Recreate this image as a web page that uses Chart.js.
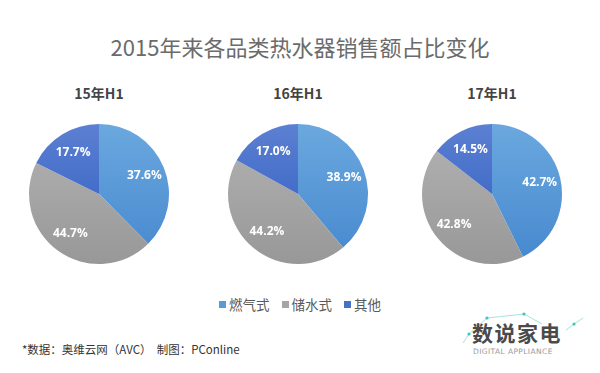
<!DOCTYPE html>
<html>
<head>
<meta charset="utf-8">
<script src="https://cdn.jsdelivr.net/npm/chart.js@4/dist/chart.umd.min.js"></script>
<style>
  body { margin: 0; background: #fff; font-family: "Noto Sans CJK SC", "Noto Sans", sans-serif; }
  #page { position: relative; width: 600px; height: 373px; overflow: hidden; }
  .title { position: absolute; left: 0; width: 600px; top: 30px; text-align: center; font-size: 22px; color: #6b6b6b; }
  .sub { position: absolute; top: 83px; width: 120px; text-align: center; font-size: 14px; font-weight: bold; color: #444; }
  .pie { position: absolute; width: 150px; height: 150px; }
  #legend { position: absolute; top: 294px; left: 0; width: 600px; text-align: center; font-size: 13.5px; color: #595959; }
  #legend span.item { margin: 0 6px; }
  #legend i { display: inline-block; width: 7px; height: 7px; margin-right: 3px; vertical-align: 2px; }
  .foot { position: absolute; left: 22px; top: 341px; font-size: 11.5px; color: #333; }
  .logo { position: absolute; left: 472px; top: 322px; font-size: 21px; line-height: 1; font-weight: bold; color: #4a4a4a; letter-spacing: 1.5px; }
  .logo2 { position: absolute; left: 473px; top: 348px; font-size: 7.5px; line-height: 1; color: #999; letter-spacing: 0.4px; font-family: "DejaVu Sans", sans-serif; }
  #deco { position: absolute; left: 420px; top: 300px; }
</style>
</head>
<body>
<div id="page">
  <div class="title">2015年来各品类热水器销售额占比变化</div>
  <div id="subs"></div>
  <canvas id="pie0" class="pie"></canvas>
  <canvas id="pie1" class="pie"></canvas>
  <canvas id="pie2" class="pie"></canvas>
  <div id="legend"></div>
  <div class="foot">*数据：奥维云网（AVC）&nbsp;&nbsp;制图：PConline</div>
  <svg id="deco" width="180" height="70">
    <polyline points="43,43 49,34 67,18 104,14 122,24" fill="none" stroke="#8fdcd3" stroke-width="0.8"/>
    <polyline points="146,30 154,24 163,18" fill="none" stroke="#8fdcd3" stroke-width="0.8"/>
    <circle cx="49" cy="34" r="1.6" fill="#3cc7b8"/>
    <circle cx="67" cy="18" r="1.6" fill="#3cc7b8"/>
    <circle cx="104" cy="14" r="1.6" fill="#3cc7b8"/>
    <circle cx="154" cy="24" r="1.6" fill="#3cc7b8"/>
  </svg>
  <div class="logo">数说家电</div>
  <div class="logo2">DIGITAL APPLIANCE</div>
</div>
<script>
// Periods and categories
const periods = ['15年H1', '16年H1', '17年H1'];
const categories = ['燃气式', '储水式', '其他'];

// Share of sales (%) per category, one value per period
const gasShare = [37.6, 38.9, 42.7];
const storageShare = [44.7, 44.2, 42.8];
const otherShare = [17.7, 17.0, 14.5];

const baseColors = ['#5b9bd5', '#a5a5a5', '#4472c4'];
const gradStops = [
    ['#6aa8de', '#4688cf'],
    ['#b3b3b3', '#989898'],
    ['#5c80d2', '#2a5abf'],
];
const centersX = [99, 298, 492];
const centerY = 194;

// Percentage labels placed at ~70% of the radius
const sliceLabels = {
    id: 'sliceLabels',
    afterDatasetsDraw(chart) {
        const ctx = chart.ctx;
        const meta = chart.getDatasetMeta(0);
        const data = chart.data.datasets[0].data;
        ctx.save();
        ctx.font = 'bold 12px "Open Sans", "DejaVu Sans", sans-serif';
        ctx.fillStyle = '#fff';
        ctx.textAlign = 'center';
        ctx.textBaseline = 'middle';
        meta.data.forEach((arc, i) => {
            const p = arc.getProps(['x', 'y', 'startAngle', 'endAngle', 'outerRadius'], true);
            const mid = (p.startAngle + p.endAngle) / 2;
            const r = p.outerRadius * 0.7;
            ctx.fillText(data[i].toFixed(1) + '%', p.x + Math.cos(mid) * r, p.y + Math.sin(mid) * r);
        });
        ctx.restore();
    }
};

function sliceColor(context) {
    const chart = context.chart;
    const area = chart.chartArea;
    if (!area) return baseColors[context.dataIndex];
    const g = chart.ctx.createLinearGradient(0, area.top, 0, area.bottom);
    g.addColorStop(0, gradStops[context.dataIndex][0]);
    g.addColorStop(1, gradStops[context.dataIndex][1]);
    return g;
}

// subtitles
const subs = document.getElementById('subs');
periods.forEach((p, i) => {
    const d = document.createElement('div');
    d.className = 'sub';
    d.style.left = (centersX[i] - 60) + 'px';
    d.textContent = p;
    subs.appendChild(d);
});

// legend
const legend = document.getElementById('legend');
categories.forEach((c, i) => {
    const s = document.createElement('span');
    s.className = 'item';
    s.innerHTML = `<i style="background:${baseColors[i]}"></i>${c}`;
    legend.appendChild(s);
});

periods.forEach((p, i) => {
    const canvas = document.getElementById('pie' + i);
    canvas.style.left = (centersX[i] - 75) + 'px';
    canvas.style.top = (centerY - 75) + 'px';
    new Chart(canvas, {
        type: 'pie',
        data: {
            labels: categories,
            datasets: [{
                data: [gasShare[i], storageShare[i], otherShare[i]],
                backgroundColor: sliceColor,
                borderWidth: 0,
            }]
        },
        options: {
            responsive: false,
            animation: false,
            layout: { padding: 5 },
            plugins: {
                legend: { display: false },
                tooltip: { enabled: false },
            }
        },
        plugins: [sliceLabels]
    });
});
</script>
</body>
</html>
